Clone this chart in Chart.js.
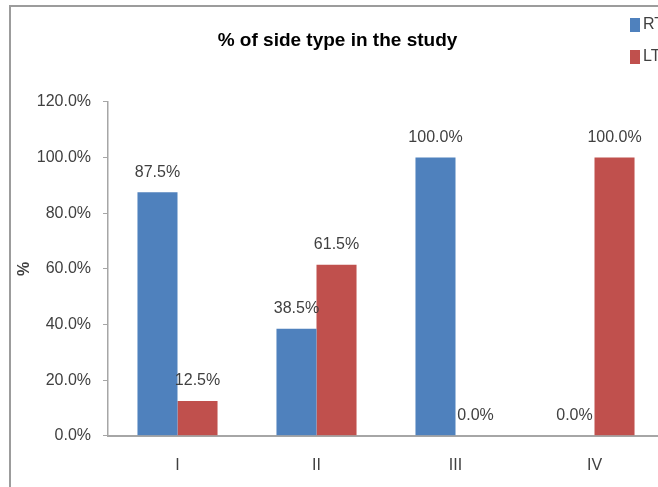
<!DOCTYPE html>
<html>
<head>
<meta charset="utf-8">
<script src="https://cdn.jsdelivr.net/npm/chart.js@4.4.0/dist/chart.umd.min.js"></script>
<style>
  html, body { margin: 0; padding: 0; background: #fff; overflow: hidden; }
  body { width: 658px; height: 487px; position: relative; }
  #frame { position: absolute; left: 9px; top: 5px; width: 720px; height: 540px;
           border-top: 2px solid #9c9c9c; border-left: 2px solid #9c9c9c; }
  #chart { position: absolute; left: 0; top: 0; }
</style>
</head>
<body>
<div id="frame"><canvas id="chart" width="654" height="495"></canvas></div>
<script>
// categories and the two series (percent)
const categories = ['I', 'II', 'III', 'IV'];
const rtValues = [87.5, 38.5, 100.0, 0.0];
const ltValues = [12.5, 61.5, 0.0, 100.0];
const seriesNames = ['RT', 'LT'];
const seriesColors = ['#4F81BD', '#C0504D'];

const FONT = "'Liberation Sans', Arial, sans-serif";
const TEXT = '#404040';

// percentage text above each bar
const valueLabels = {
  id: 'valueLabels',
  afterDatasetsDraw(chart) {
    const ctx = chart.ctx;
    ctx.save();
    ctx.font = '16px ' + FONT;
    ctx.fillStyle = TEXT;
    ctx.textAlign = 'center';
    ctx.textBaseline = 'middle';
    chart.data.datasets.forEach((ds, i) => {
      chart.getDatasetMeta(i).data.forEach((bar, j) => {
        ctx.fillText(ds.data[j].toFixed(1) + '%', bar.x, bar.y - 20);
      });
    });
    ctx.restore();
  }
};

// stacked legend in the top right corner
const sideLegend = {
  id: 'sideLegend',
  afterDraw(chart) {
    const ctx = chart.ctx;
    ctx.save();
    ctx.font = '16px ' + FONT;
    ctx.textBaseline = 'middle';
    chart.data.datasets.forEach((ds, i) => {
      const y = 18 + i * 32;
      ctx.fillStyle = ds.backgroundColor;
      ctx.fillRect(619, y - 7, 10, 14);
      ctx.fillStyle = TEXT;
      ctx.fillText(ds.label, 632, y);
    });
    ctx.restore();
  }
};

const chart = new Chart(document.getElementById('chart'), {
  type: 'bar',
  data: {
    labels: categories,
    datasets: [
      { label: seriesNames[0], data: rtValues, backgroundColor: seriesColors[0] },
      { label: seriesNames[1], data: ltValues, backgroundColor: seriesColors[1] }
    ]
  },
  options: {
    responsive: false,
    animation: false,
    layout: { padding: { left: 0, right: 1, top: 0, bottom: 14 } },
    datasets: { bar: { categoryPercentage: 0.576, barPercentage: 1.0 } },
    scales: {
      x: {
        grid: { display: false },
        border: { display: true, color: '#a6a6a6', width: 2 },
        ticks: { color: TEXT, font: { family: FONT, size: 16 }, padding: 12.5 }
      },
      y: {
        min: 0,
        max: 120,
        afterFit(scale) { scale.width = 97; },
        grid: { drawOnChartArea: false, drawTicks: true, tickLength: 5, color: '#a6a6a6' },
        border: { display: true, color: '#a6a6a6', width: 1.5 },
        ticks: {
          stepSize: 20,
          color: TEXT,
          padding: 12,
          font: { family: FONT, size: 16 },
          callback: v => v.toFixed(1) + '%'
        },
        title: {
          display: true,
          text: '%',
          color: TEXT,
          font: { family: FONT, size: 16, weight: 'bold' },
          padding: { top: 4, bottom: 0 }
        }
      }
    },
    plugins: {
      legend: { display: false },
      tooltip: { enabled: false },
      title: {
        display: true,
        text: '% of side type in the study',
        color: '#000',
        font: { family: FONT, size: 19, weight: 'bold' },
        padding: { top: 22, bottom: 50 }
      }
    }
  },
  plugins: [valueLabels, sideLegend]
});
</script>
</body>
</html>
